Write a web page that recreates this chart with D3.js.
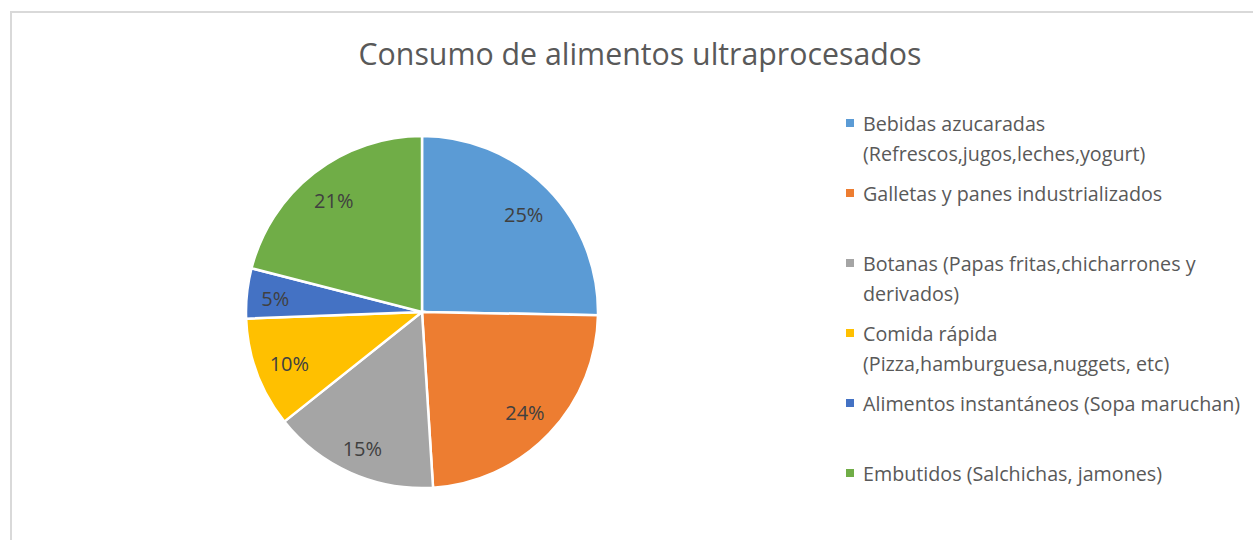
<!DOCTYPE html>
<html>
<head>
<meta charset="utf-8">
<script src="https://cdn.jsdelivr.net/npm/d3@7"></script>
<style>
  body { margin: 0; background: #fff; }
  svg { display: block; font-family: "Open Sans", Lato, sans-serif; }
</style>
</head>
<body>
<div id="chart"></div>
<script>
// data
const categories = [
    ["Bebidas azucaradas", "(Refrescos,jugos,leches,yogurt)"],
    ["Galletas y panes industrializados"],
    ["Botanas (Papas fritas,chicharrones y", "derivados)"],
    ["Comida rápida", "(Pizza,hamburguesa,nuggets, etc)"],
    ["Alimentos instantáneos (Sopa maruchan)"],
    ["Embutidos (Salchichas, jamones)"]
];
const values = [25.3, 23.7, 15.3, 10.1, 4.6, 21.0];
const colors = ["#5B9BD5", "#ED7D31", "#A5A5A5", "#FFC000", "#4472C4", "#70AD47"];
const title = "Consumo de alimentos ultraprocesados";

let width = 1253, height = 540;
let cx = 422, cy = 312, radius = 176;

let svg = d3.select("#chart").append("svg")
    .attr("width", width)
    .attr("height", height);

// chart area border (runs off right/bottom like the screenshot)
svg.append("rect")
    .attr("x", 11).attr("y", 12)
    .attr("width", width + 20).attr("height", height + 20)
    .attr("fill", "#fff")
    .attr("stroke", "#d9d9d9")
    .attr("stroke-width", 2);

svg.append("text")
    .attr("x", 640).attr("y", 65)
    .attr("text-anchor", "middle")
    .style("font-size", "30.3px")
    .style("fill", "#595959")
    .text(title);

let pie = d3.pie().sort(null).value(d => d);
let arcs = pie(values);
let arc = d3.arc().innerRadius(0).outerRadius(radius);

let g = svg.append("g").attr("transform", "translate(" + cx + "," + cy + ")");

g.selectAll("path")
    .data(arcs)
    .enter()
    .append("path")
    .attr("d", arc)
    .attr("fill", (d, i) => colors[i])
    .attr("stroke", "#fff")
    .attr("stroke-width", 2.5);

// percentage labels, placed "inside end" like Excel
let total = d3.sum(values);
let labels = g.selectAll("text.pct")
    .data(arcs)
    .enter()
    .append("text")
    .attr("class", "pct")
    .attr("text-anchor", "middle")
    .attr("dominant-baseline", "central")
    .style("font-size", "20px")
    .style("fill", "#404040")
    .text(d => Math.round(d.value / total * 100) + "%");

labels.each(function (d) {
    let w = this.getComputedTextLength() / 2 + 2;
    let h = 9;
    let a = (d.startAngle + d.endAngle) / 2;
    let sx = Math.sin(a), sy = -Math.cos(a);
    let target = radius - 11;
    let dist = target;
    // shrink until the far corner of the box fits
    for (let r = target; r > 0; r -= 0.5) {
        let px = r * sx + Math.sign(sx) * w;
        let py = r * sy + Math.sign(sy) * h;
        if (Math.sqrt(px * px + py * py) <= target) { dist = r; break; }
    }
    d3.select(this).attr("x", dist * sx).attr("y", dist * sy + 2);
});

// legend
let legend = svg.append("g").attr("transform", "translate(846,123)");
let items = legend.selectAll("g")
    .data(categories)
    .enter()
    .append("g")
    .attr("transform", (d, i) => "translate(0," + (i * 70) + ")");

items.append("rect")
    .attr("x", 0).attr("y", -4)
    .attr("width", 8).attr("height", 8)
    .attr("fill", (d, i) => colors[i]);

items.append("text")
    .attr("x", 17)
    .style("font-size", "19.7px")
    .style("fill", "#595959")
    .selectAll("tspan")
    .data(d => d)
    .enter()
    .append("tspan")
    .attr("x", 17)
    .attr("y", (d, j) => j * 30)
    .attr("dominant-baseline", "central")
    .text(d => d);
</script>
</body>
</html>
